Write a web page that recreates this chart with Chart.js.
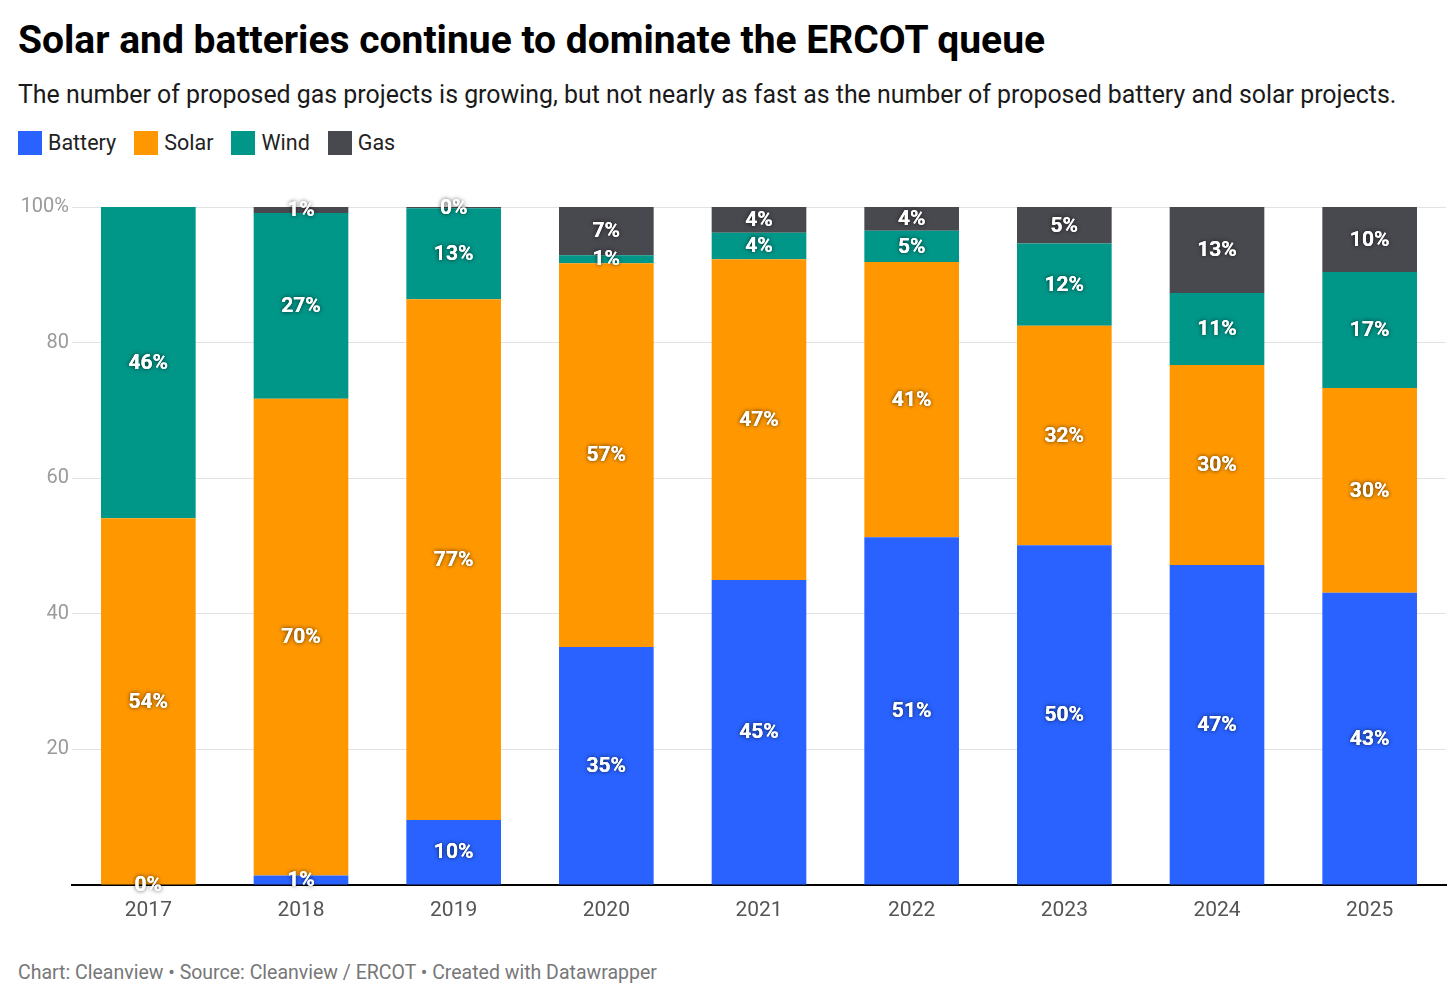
<!DOCTYPE html>
<html>
<head>
<meta charset="utf-8">
<script src="https://cdn.jsdelivr.net/npm/chart.js@4"></script>
<style>
  body{margin:0;background:#fff;font-family:Roboto,sans-serif;width:1456px;height:1003px;position:relative;overflow:hidden;}
  #title{position:absolute;left:18px;top:17px;font-size:39px;font-weight:700;color:#000;line-height:46px;white-space:nowrap;}
  #subtitle{position:absolute;left:18px;top:80px;font-size:24.9px;color:#1a1a1a;line-height:30px;white-space:nowrap;}
  #legend{position:absolute;left:18px;top:131px;font-size:21.5px;color:#222;display:flex;line-height:24px;}
  .item{display:flex;align-items:center;margin-right:18px;}
  .box{width:24px;height:24px;margin-right:6px;}
  #footer{position:absolute;left:18px;top:961px;font-size:19.5px;color:#777;line-height:24px;white-space:nowrap;}
  #wrap{position:absolute;left:0;top:170px;width:1456px;height:780px;}
</style>
</head>
<body>
<div id="title">Solar and batteries continue to dominate the ERCOT queue</div>
<div id="subtitle">The number of proposed gas projects is growing, but not nearly as fast as the number of proposed battery and solar projects.</div>
<div id="legend"></div>
<div id="wrap"><canvas id="chart"></canvas></div>
<div id="footer">Chart: Cleanview • Source: Cleanview / ERCOT • Created with Datawrapper</div>
<script>
'use strict';
// values (share of queue, %)
let years=['2017','2018','2019','2020','2021','2022','2023','2024','2025'];
let battery=[0, 1.4, 9.6, 35.1, 45.0, 51.3, 50.1, 47.2, 43.1];
let solar=[54.1, 70.3, 76.8, 56.6, 47.3, 40.6, 32.4, 29.5, 30.2];
let wind=[45.9, 27.4, 13.4, 1.2, 3.9, 4.6, 12.1, 10.6, 17.1];
let gas=[null, 0.9, 0.2, 7.1, 3.8, 3.5, 5.4, 12.7, 9.6];
let yTicks=[0, 20, 40, 60, 80, 100];

let seriesNames=['Battery','Solar','Wind','Gas'];
let seriesColors=['#2962ff','#ff9800','#009688','#48484f'];
let seriesData=[battery, solar, wind, gas];

// html legend
let legend=document.getElementById('legend');
for(let i=0;i<seriesNames.length;i++){
  let item=document.createElement('div');
  item.className='item';
  item.innerHTML='<div class="box" style="background:'+seriesColors[i]+'"></div>'+seriesNames[i];
  legend.appendChild(item);
}

// labels in the middle of each segment
let segmentLabels={
  id:'segmentLabels',
  afterDatasetsDraw(chart){
    let ctx=chart.ctx;
    ctx.save();
    ctx.font='700 21px Roboto';
    ctx.textAlign='center';
    ctx.textBaseline='middle';
    chart.data.datasets.forEach(function(ds, di){
      let meta=chart.getDatasetMeta(di);
      meta.data.forEach(function(bar, i){
        let v=ds.data[i];
        if(v===null || v===undefined) return;
        let p=bar.getProps(['x','y','base'], true);
        let cy=(p.y+p.base)/2;
        let txt=Math.round(v)+'%';
        ctx.shadowColor='rgba(0,0,0,0.75)';
        ctx.shadowBlur=4;
        ctx.fillStyle='#fff';
        ctx.fillText(txt, p.x, cy+1);
        ctx.shadowBlur=0;
        ctx.fillText(txt, p.x, cy+1);
      });
    });
    ctx.restore();
  }
};

let datasets=[];
for(let i=0;i<seriesNames.length;i++){
  datasets.push({
    label:seriesNames[i],
    data:seriesData[i],
    backgroundColor:seriesColors[i],
    borderWidth:0,
    barPercentage:1,
    categoryPercentage:0.62
  });
}

Chart.defaults.font.family='Roboto';

new Chart(document.getElementById('chart'), {
  type:'bar',
  data:{labels:years, datasets:datasets},
  plugins:[segmentLabels],
  options:{
    responsive:true,
    maintainAspectRatio:false,
    animation:false,
    layout:{padding:{left:14, right:10, top:37, bottom:15}},
    plugins:{legend:{display:false}, tooltip:{enabled:false}},
    scales:{
      x:{
        stacked:true,
        grid:{display:false},
        border:{color:'#000', width:2},
        ticks:{color:'#555', font:{size:21}, padding:5},
        afterFit:function(scale){ scale.height=50; }
      },
      y:{
        stacked:true,
        min:0, max:100,
        afterBuildTicks:function(scale){ scale.ticks=yTicks.map(function(v){return {value:v};}); },
        grid:{color:'#e2e2e2', drawTicks:false},
        border:{display:false},
        ticks:{
          color:'#9a9a9a', font:{size:20}, padding:3,
          callback:function(v){ return v===100 ? '100%' : (v===0 ? '' : v); }
        },
        afterFit:function(scale){ scale.width=58; }
      }
    }
  }
});
</script>
</body>
</html>
